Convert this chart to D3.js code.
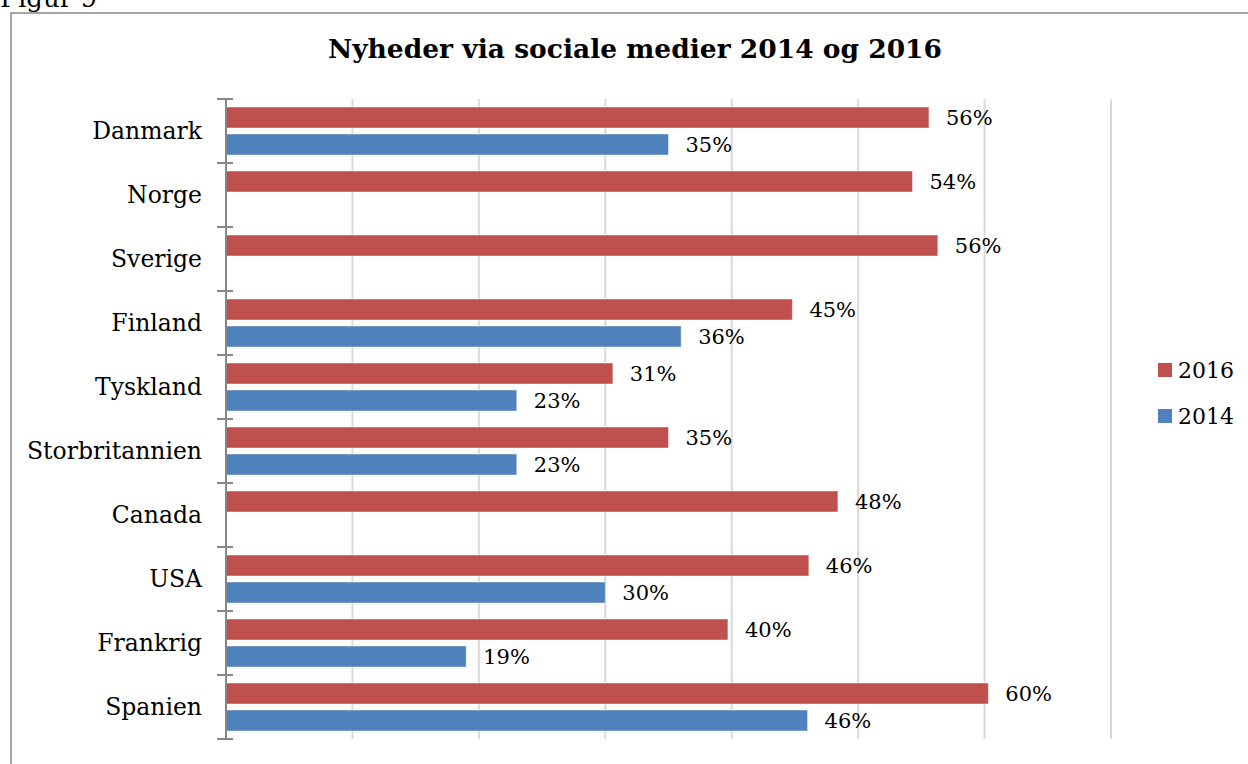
<!DOCTYPE html>
<html>
<head>
<meta charset="utf-8">
<script src="https://cdn.jsdelivr.net/npm/d3@7"></script>
<style>
  html, body { margin: 0; padding: 0; background: #fff; overflow: hidden; }
  svg { display: block; font-family: "DejaVu Serif", serif; }
</style>
</head>
<body>
<svg id="chart"></svg>
<script>
// data (share of respondents, %)
const countries = ['Danmark', 'Norge', 'Sverige', 'Finland', 'Tyskland',
  'Storbritannien', 'Canada', 'USA', 'Frankrig', 'Spanien'];
const years = ['2016', '2014'];
const values2016 = [55.6, 54.3, 56.3, 44.8, 30.6, 35.0, 48.4, 46.1, 39.7, 60.3];
const values2014 = [35.0, null, null, 36.0, 23.0, 23.0, null, 30.0, 19.0, 46.0];
const xTicks = [0, 10, 20, 30, 40, 50, 60, 70];

const width = 1248, height = 764;
const colors = { '2016': '#C0504D', '2014': '#4F81BD' };

const svg = d3.select('#chart').attr('width', width).attr('height', height);

// outer frame + figure caption (cut off at the top, as in the source)
svg.append('rect')
  .attr('x', 11).attr('y', 13)
  .attr('width', 1300).attr('height', 800)
  .attr('fill', 'none').attr('stroke', '#888').attr('stroke-width', 1.5);

svg.append('text')
  .attr('x', 0).attr('y', 7)
  .style('font-size', '26px')
  .text('Figur 9');

svg.append('text')
  .attr('x', 635).attr('y', 58)
  .attr('text-anchor', 'middle')
  .style('font-size', '26.5px').style('font-weight', 'bold')
  .text('Nyheder via sociale medier 2014 og 2016');

const x = d3.scaleLinear().domain([0, 70]).range([226, 1111]);
const y = d3.scaleBand().domain(countries).range([99, 739]).padding(0);
const sub = d3.scaleBand().domain(years).range([0, y.bandwidth()])
  .paddingInner(0.222).paddingOuter(0.296);

// gridlines
svg.append('g').selectAll('line')
  .data(xTicks.slice(1))
  .enter().append('line')
  .attr('x1', d => x(d)).attr('x2', d => x(d))
  .attr('y1', 99).attr('y2', 739)
  .attr('stroke', '#d9d9d9').attr('stroke-width', 2);

// bars
const rows = countries.map((c, i) => ({ c, v2016: values2016[i], v2014: values2014[i] }));
const groups = svg.append('g').selectAll('g')
  .data(rows)
  .enter().append('g')
  .attr('transform', d => 'translate(0,' + y(d.c) + ')');

const bars = groups.selectAll('g.bar')
  .data(d => years.map(yr => ({ yr, v: d['v' + yr] })).filter(b => b.v != null))
  .enter().append('g').attr('class', 'bar');

bars.append('rect')
  .attr('x', x(0))
  .attr('y', d => sub(d.yr))
  .attr('width', d => x(d.v) - x(0))
  .attr('height', sub.bandwidth())
  .attr('fill', d => colors[d.yr])
  .attr('stroke', 'rgba(255,255,255,0.45)').attr('stroke-width', 1);

bars.append('text')
  .attr('x', d => x(d.v) + 17)
  .attr('y', d => sub(d.yr) + sub.bandwidth() / 2 + 7.5)
  .style('font-size', '21px')
  .text(d => Math.round(d.v) + '%');

// category axis
const axis = svg.append('g');
axis.append('line')
  .attr('x1', x(0)).attr('x2', x(0))
  .attr('y1', 99).attr('y2', 739)
  .attr('stroke', '#868686').attr('stroke-width', 2);

const tickYs = countries.map(c => y(c)).concat([y.range()[1]]);
axis.selectAll('line.tick')
  .data(tickYs)
  .enter().append('line').attr('class', 'tick')
  .attr('x1', x(0) - 9).attr('x2', x(0) + 7)
  .attr('y1', d => d).attr('y2', d => d)
  .attr('stroke', '#868686').attr('stroke-width', 2);

axis.selectAll('text')
  .data(countries)
  .enter().append('text')
  .attr('x', 202)
  .attr('y', d => y(d) + y.bandwidth() / 2 + 7.5)
  .attr('text-anchor', 'end')
  .style('font-size', '23.5px')
  .text(d => d);

// legend
const legend = svg.append('g').selectAll('g')
  .data(years)
  .enter().append('g')
  .attr('transform', (d, i) => 'translate(1158,' + (363 + i * 46) + ')');

legend.append('rect')
  .attr('width', 14).attr('height', 14)
  .attr('fill', d => colors[d]);

legend.append('text')
  .attr('x', 20).attr('y', 15)
  .style('font-size', '22px')
  .text(d => d);
</script>
</body>
</html>
